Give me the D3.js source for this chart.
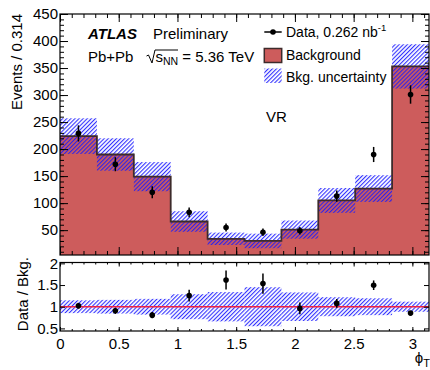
<!DOCTYPE html>
<html>
<head>
<meta charset="utf-8">
<script src="https://cdn.jsdelivr.net/npm/d3@7"></script>
<style>
  html, body { margin: 0; padding: 0; background: #fff; }
  svg text { font-family: "Liberation Sans", Arial, Helvetica, sans-serif; fill: #000; }
</style>
</head>
<body>
<div id="chart"></div>
<script>
// values
const nBins = 10;
const bkg     = [224, 190, 149, 66, 34, 30, 51, 105, 127, 353];
const bkgUnc  = [33, 30, 27, 19, 11.5, 13.5, 16.8, 23, 24.7, 41];
const data    = [229, 172, 120, 83, 55, 46, 49, 113, 190, 301];
const dataErr = [15, 13, 11, 9, 7.5, 7, 7, 10.5, 14, 17];

const xMajor = [0, 0.5, 1, 1.5, 2, 2.5, 3];
const yMajor = [50, 100, 150, 200, 250, 300, 350, 400, 450];
const rMajor = [0.5, 1, 1.5, 2];

const width = 430, height = 370;
const left = 60, right = 429;
const top1 = 14, bot1 = 255;
const top2 = 262.5, bot2 = 331;

const edges = d3.range(nBins + 1).map(i => i * Math.PI / nBins);
const bins = bkg.map((b, i) => ({
  lo: edges[i], hi: edges[i + 1], mid: (edges[i] + edges[i + 1]) / 2,
  bkg: b, unc: bkgUnc[i], data: data[i], err: dataErr[i]
}));

const x = d3.scaleLinear().domain([0, Math.PI]).range([left, right]);
const y = d3.scaleLinear().domain([4, 450]).range([bot1, top1]);
const yr = d3.scaleLinear().domain([0.44, 2.02]).range([bot2, top2]);

const svg = d3.select('#chart').append('svg')
  .attr('width', width)
  .attr('height', height);

const defs = svg.append('defs');
defs.append('pattern')
  .attr('id', 'hatch')
  .attr('patternUnits', 'userSpaceOnUse')
  .attr('width', 2.9)
  .attr('height', 2.9)
  .attr('patternTransform', 'rotate(45)')
  .append('line')
  .attr('x1', 0.6).attr('y1', 0).attr('x2', 0.6).attr('y2', 2.9)
  .attr('stroke', '#1a1aff')
  .attr('stroke-width', 1);

const red = '#cd5c5c';

// ---- top panel ----
const area = d3.area()
  .x(d => x(d[0]))
  .y0(bot1)
  .y1(d => y(d[1]))
  .curve(d3.curveStepAfter);
const stepPts = bins.map(d => [d.lo, d.bkg]).concat([[Math.PI, bkg[nBins - 1]]]);

svg.append('path')
  .attr('d', area(stepPts))
  .attr('fill', red);

svg.selectAll('.unc')
  .data(bins)
  .enter()
  .append('rect')
  .attr('class', 'unc')
  .attr('x', d => x(d.lo))
  .attr('width', d => x(d.hi) - x(d.lo))
  .attr('y', d => y(d.bkg + d.unc))
  .attr('height', d => y(d.bkg - d.unc) - y(d.bkg + d.unc))
  .attr('fill', 'url(#hatch)');

svg.append('path')
  .attr('d', d3.line().x(d => x(d[0])).y(d => y(d[1])).curve(d3.curveStepAfter)(stepPts))
  .attr('fill', 'none')
  .attr('stroke', '#3d2b2b')
  .attr('stroke-width', 1.8);

svg.selectAll('.err')
  .data(bins)
  .enter()
  .append('line')
  .attr('class', 'err')
  .attr('x1', d => x(d.mid)).attr('x2', d => x(d.mid))
  .attr('y1', d => y(d.data - d.err)).attr('y2', d => y(d.data + d.err))
  .attr('stroke', '#000')
  .attr('stroke-width', 1.5);

svg.selectAll('.pt')
  .data(bins)
  .enter()
  .append('circle')
  .attr('class', 'pt')
  .attr('cx', d => x(d.mid))
  .attr('cy', d => y(d.data))
  .attr('r', 2.8)
  .attr('fill', '#000');

// ---- ratio panel ----
svg.selectAll('.runc')
  .data(bins)
  .enter()
  .append('rect')
  .attr('class', 'runc')
  .attr('x', d => x(d.lo))
  .attr('width', d => x(d.hi) - x(d.lo))
  .attr('y', d => yr(1 + d.unc / d.bkg))
  .attr('height', d => yr(1 - d.unc / d.bkg) - yr(1 + d.unc / d.bkg))
  .attr('fill', 'url(#hatch)');

svg.append('line')
  .attr('x1', left).attr('x2', right)
  .attr('y1', yr(1)).attr('y2', yr(1))
  .attr('stroke', '#ee2244')
  .attr('stroke-width', 1.5);

svg.selectAll('.rerr')
  .data(bins)
  .enter()
  .append('line')
  .attr('class', 'rerr')
  .attr('x1', d => x(d.mid)).attr('x2', d => x(d.mid))
  .attr('y1', d => yr((d.data - d.err) / d.bkg)).attr('y2', d => yr((d.data + d.err) / d.bkg))
  .attr('stroke', '#000')
  .attr('stroke-width', 1.5);

svg.selectAll('.rpt')
  .data(bins)
  .enter()
  .append('circle')
  .attr('class', 'rpt')
  .attr('cx', d => x(d.mid))
  .attr('cy', d => yr(d.data / d.bkg))
  .attr('r', 2.8)
  .attr('fill', '#000');

// ---- frames and ticks ----
function ticks(axisFn, scale, values, size, tx, ty, labels) {
  const g = svg.append('g')
    .attr('transform', `translate(${tx},${ty})`)
    .call(axisFn(scale).tickValues(values).tickSize(-size).tickSizeOuter(0)
      .tickPadding(labels ? labels.pad : 0)
      .tickFormat(labels ? d3.format('') : ''));
  g.select('.domain').remove();
  g.selectAll('.tick line').attr('stroke', '#000').attr('stroke-width', 1);
  g.selectAll('.tick text')
    .attr('font-size', 15)
    .attr('font-family', '"Liberation Sans", Arial, sans-serif');
  return g;
}

const xMinor = d3.range(0, 3.15, 0.1);
const yMinor = d3.range(10, 451, 10);

// top panel
ticks(d3.axisBottom, x, xMajor, 8, 0, bot1);
ticks(d3.axisBottom, x, xMinor, 4, 0, bot1);
ticks(d3.axisTop, x, xMajor, -8, 0, top1).selectAll('.tick line').attr('y2', 8);
ticks(d3.axisTop, x, xMinor, -4, 0, top1).selectAll('.tick line').attr('y2', 4);
ticks(d3.axisLeft, y, yMajor, 8, left, 0, {pad: 2});
ticks(d3.axisLeft, y, yMinor, 4, left, 0);
ticks(d3.axisRight, y, yMajor, 8, right, 0);
ticks(d3.axisRight, y, yMinor, 4, right, 0);

// ratio panel
ticks(d3.axisBottom, x, xMajor, 4, 0, bot2, {pad: 7});
ticks(d3.axisBottom, x, xMinor, 2, 0, bot2);
ticks(d3.axisTop, x, xMajor, -4, 0, top2).selectAll('.tick line').attr('y2', 4);
ticks(d3.axisTop, x, xMinor, -2, 0, top2).selectAll('.tick line').attr('y2', 2);
ticks(d3.axisLeft, yr, rMajor, 5, left, 0, {pad: 2});
ticks(d3.axisRight, yr, rMajor, 5, right, 0);

svg.append('rect')
  .attr('x', left).attr('y', top1)
  .attr('width', right - left).attr('height', bot1 - top1)
  .attr('fill', 'none').attr('stroke', '#000').attr('stroke-width', 1.2);
svg.append('rect')
  .attr('x', left).attr('y', top2)
  .attr('width', right - left).attr('height', bot2 - top2)
  .attr('fill', 'none').attr('stroke', '#000').attr('stroke-width', 1.2);

// axis titles
svg.append('text')
  .attr('transform', 'translate(21.5,14) rotate(-90)')
  .attr('text-anchor', 'end')
  .attr('font-size', 15)
  .text('Events / 0.314');
svg.append('text')
  .attr('transform', 'translate(27.5,257) rotate(-90)')
  .attr('text-anchor', 'end')
  .attr('font-size', 15)
  .text('Data / Bkg.');
const xt = svg.append('text')
  .attr('x', 430).attr('y', 363)
  .attr('text-anchor', 'end')
  .attr('font-size', 15);
xt.append('tspan').text('ϕ');
xt.append('tspan').attr('font-size', 11).attr('dy', 4).text('T');

// labels
const atl = svg.append('text').attr('x', 88).attr('y', 38.5).attr('font-size', 15);
atl.append('tspan').attr('font-weight', 'bold').attr('font-style', 'italic').text('ATLAS');
atl.append('tspan').attr('x', 153).text('Preliminary');

svg.append('text').attr('x', 88).attr('y', 62).attr('font-size', 15).text('Pb+Pb');
svg.append('path')
  .attr('d', 'M146.5,56 L148.5,55 L152,63 L155,50 L178,50')
  .attr('fill', 'none')
  .attr('stroke', '#000')
  .attr('stroke-width', 1);
const sq = svg.append('text').attr('x', 155.5).attr('y', 62).attr('font-size', 15);
sq.append('tspan').text('s');
sq.append('tspan').attr('font-size', 10.5).attr('dy', 3).text('NN');
sq.append('tspan').attr('dy', -3).text(' = 5.36 TeV');

svg.append('text').attr('x', 266).attr('y', 121.7).attr('font-size', 15).text('VR');

// legend
const lx0 = 264.3, lx1 = 281.7;
svg.append('line')
  .attr('x1', lx0).attr('x2', lx1).attr('y1', 32).attr('y2', 32)
  .attr('stroke', '#000').attr('stroke-width', 1.5);
svg.append('circle')
  .attr('cx', (lx0 + lx1) / 2).attr('cy', 32).attr('r', 2.8).attr('fill', '#000');
const dl = svg.append('text').attr('x', 286).attr('y', 37).attr('font-size', 14);
dl.append('tspan').text('Data, 0.262 nb');
dl.append('tspan').attr('font-size', 9.5).attr('dy', -6).text('-1');

svg.append('rect')
  .attr('x', lx0).attr('y', 48.5).attr('width', lx1 - lx0).attr('height', 14)
  .attr('fill', red).attr('stroke', '#3d2b2b').attr('stroke-width', 1.5);
svg.append('text').attr('x', 286).attr('y', 59.5).attr('font-size', 14).text('Background');

svg.append('rect')
  .attr('x', lx0).attr('y', 68.5).attr('width', lx1 - lx0).attr('height', 14.5)
  .attr('fill', 'url(#hatch)');
svg.append('text').attr('x', 286).attr('y', 81.7).attr('font-size', 14).text('Bkg. uncertainty');
</script>
</body>
</html>
